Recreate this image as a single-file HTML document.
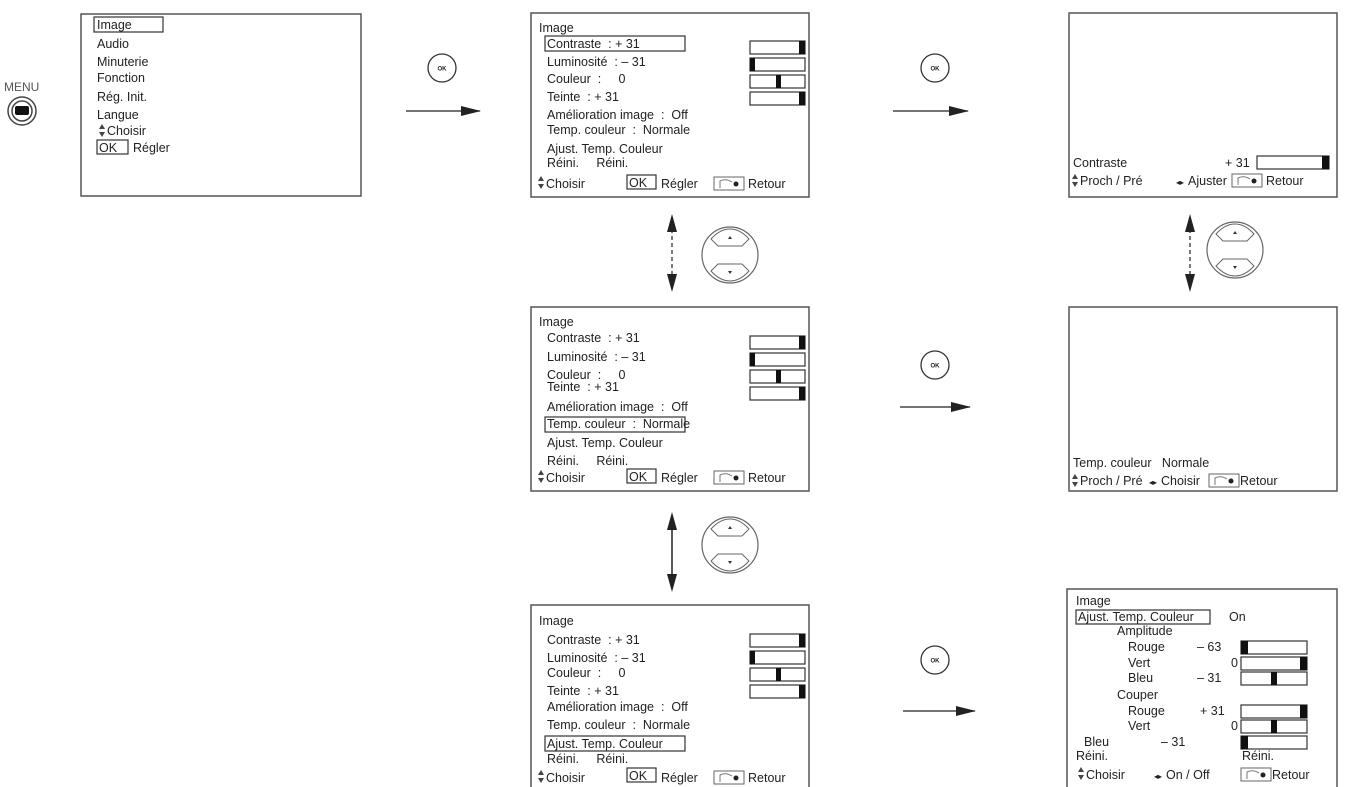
<!DOCTYPE html>
<html><head><meta charset="utf-8"><style>
html,body{margin:0;padding:0;background:#fff;}
svg{display:block;}
text{font-family:"Liberation Sans",sans-serif;font-size:12.5px;fill:#222;}
.b{fill:#fff;stroke:#555;stroke-width:1.5;}
.f{fill:#111;}
.h{fill:none;stroke:#333;stroke-width:1.2;}
.ret{fill:#fff;stroke:#666;stroke-width:1;}
</style></head><body>
<svg width="1345" height="787" viewBox="0 0 1345 787" xmlns="http://www.w3.org/2000/svg">
<defs>
<marker id="ah2" markerWidth="20" markerHeight="10" refX="19" refY="5" orient="auto" markerUnits="userSpaceOnUse"><path d="M0,0 L20,5 L0,10 z" fill="#222"/></marker>
<g id="ok"><circle cx="0" cy="0" r="14" fill="#fff" stroke="#333" stroke-width="1.3"/><text x="0" y="2.5" text-anchor="middle" style="font-size:6px;font-weight:bold">OK</text></g>
<g id="dial"><circle cx="0" cy="0" r="28" fill="#fff" stroke="#666" stroke-width="1.2"/><path d="M-19,-16 Q-10,-26 0,-26 Q10,-26 19,-16 L12,-9 L-12,-9 z" fill="#fff" stroke="#666"/><path d="M-19,16 Q-10,26 0,26 Q10,26 19,16 L12,9 L-12,9 z" fill="#fff" stroke="#666"/><path d="M-2,-16 L2,-16 L0,-19 z" fill="#333"/><path d="M-2,16 L2,16 L0,19 z" fill="#333"/></g>
<g id="retour"><rect x="0" y="-10" width="30" height="13" class="ret"/><path d="M6,1 L6,-6 Q12,-9 18,-5" fill="none" stroke="#777"/><circle cx="22" cy="-3" r="2.5" fill="#222"/></g>
<g id="updn"><path d="M0,-7 L-3,-2 L3,-2 z M0,6 L-3,1 L3,1 z" fill="#444"/></g>
</defs>

<text x="4" y="91" style="font-size:12px;fill:#555">MENU</text>
<circle cx="22" cy="111" r="14" fill="#fff" stroke="#444" stroke-width="1.5"/>
<circle cx="22" cy="111" r="10" fill="#fff" stroke="#444" stroke-width="1.5"/>
<rect x="15" y="106" width="14" height="9" rx="2" fill="#111"/>

<rect x="81" y="14" width="280" height="182" class="b"/>
<rect x="94" y="17" width="69" height="15" class="h"/>
<text x="97" y="29">Image</text>
<text x="97" y="48">Audio</text>
<text x="97" y="66">Minuterie</text>
<text x="97" y="82">Fonction</text>
<text x="97" y="101">Rég. Init.</text>
<text x="97" y="119">Langue</text>
<use href="#updn" x="102" y="131"/><text x="107" y="135">Choisir</text>
<rect x="97" y="140" width="31" height="14" class="h"/>
<text x="99" y="152">OK</text><text x="133" y="152">Régler</text>

<use href="#ok" x="442" y="68"/>
<line x1="406" y1="111" x2="480" y2="111" stroke="#222" stroke-width="1.3" marker-end="url(#ah2)"/>
<use href="#ok" x="935" y="68"/>
<line x1="893" y1="111" x2="968" y2="111" stroke="#222" stroke-width="1.3" marker-end="url(#ah2)"/>

<g transform="translate(531,13)">
<rect x="0" y="0" width="278" height="184" class="b"/>
<text x="8" y="19">Image</text>
<rect x="14" y="23" width="140" height="15" class="h"/>
<text x="16" y="35">Contraste &#160;: + 31</text>
<text x="16" y="53">Luminosité &#160;: – 31</text>
<text x="16" y="70">Couleur &#160;: &#160;&#160;&#160;&#160;0</text>
<text x="16" y="88">Teinte &#160;: + 31</text>
<text x="16" y="106">Amélioration image &#160;: &#160;Off</text>
<text x="16" y="121">Temp. couleur &#160;: &#160;Normale</text>
<text x="16" y="140">Ajust. Temp. Couleur</text>
<text x="16" y="154">Réini. &#160;&#160;&#160;&#160;Réini.</text>
<use href="#updn" x="10" y="170"/><text x="15" y="175">Choisir</text>
<rect x="96" y="162" width="29" height="14" class="h"/><text x="98" y="174">OK</text><text x="130" y="175">Régler</text>
<use href="#retour" x="183" y="174"/><text x="217" y="175">Retour</text>
<rect x="219" y="28" width="55" height="13" class="h"/><rect x="268" y="28" width="6" height="13" class="f"/>
<rect x="219" y="45" width="55" height="13" class="h"/><rect x="219" y="45" width="5" height="13" class="f"/>
<rect x="219" y="62" width="55" height="13" class="h"/><rect x="245" y="62" width="5" height="13" class="f"/>
<rect x="219" y="79" width="55" height="13" class="h"/><rect x="268" y="79" width="6" height="13" class="f"/>
</g>

<g transform="translate(1069,13)">
<rect x="0" y="0" width="268" height="184" class="b"/>
<text x="4" y="154">Contraste</text>
<text x="156" y="154">+ 31</text>
<rect x="188" y="143" width="72" height="13" class="h"/><rect x="253" y="143" width="7" height="13" class="f"/>
<use href="#updn" x="6" y="168"/><text x="11" y="172">Proch / Pré</text>
<text x="107" y="172" style="font-size:8px">◂▸</text><text x="119" y="172">Ajuster</text>
<use href="#retour" x="163" y="171"/><text x="197" y="172">Retour</text>
</g>

<line x1="672" y1="222" x2="672" y2="284" stroke="#222" stroke-width="1.2" stroke-dasharray="4,3"/>
<path d="M672,214 L667,232 L677,232 z M672,292 L667,274 L677,274 z" fill="#222"/>
<use href="#dial" x="730" y="255"/>
<line x1="1190" y1="222" x2="1190" y2="284" stroke="#222" stroke-width="1.2" stroke-dasharray="4,3"/>
<path d="M1190,214 L1185,232 L1195,232 z M1190,292 L1185,274 L1195,274 z" fill="#222"/>
<use href="#dial" x="1235" y="250"/>

<g transform="translate(531,307)">
<rect x="0" y="0" width="278" height="184" class="b"/>
<text x="8" y="19">Image</text>
<text x="16" y="35">Contraste &#160;: + 31</text>
<text x="16" y="54">Luminosité &#160;: – 31</text>
<text x="16" y="72">Couleur &#160;: &#160;&#160;&#160;&#160;0</text>
<text x="16" y="84">Teinte &#160;: + 31</text>
<text x="16" y="104">Amélioration image &#160;: &#160;Off</text>
<rect x="14" y="110" width="140" height="15" class="h"/>
<text x="16" y="121">Temp. couleur &#160;: &#160;Normale</text>
<text x="16" y="140">Ajust. Temp. Couleur</text>
<text x="16" y="158">Réini. &#160;&#160;&#160;&#160;Réini.</text>
<use href="#updn" x="10" y="170"/><text x="15" y="175">Choisir</text>
<rect x="96" y="162" width="29" height="14" class="h"/><text x="98" y="174">OK</text><text x="130" y="175">Régler</text>
<use href="#retour" x="183" y="174"/><text x="217" y="175">Retour</text>
<rect x="219" y="29" width="55" height="13" class="h"/><rect x="268" y="29" width="6" height="13" class="f"/>
<rect x="219" y="46" width="55" height="13" class="h"/><rect x="219" y="46" width="5" height="13" class="f"/>
<rect x="219" y="63" width="55" height="13" class="h"/><rect x="245" y="63" width="5" height="13" class="f"/>
<rect x="219" y="80" width="55" height="13" class="h"/><rect x="268" y="80" width="6" height="13" class="f"/>
</g>

<use href="#ok" x="935" y="365"/>
<line x1="900" y1="407" x2="970" y2="407" stroke="#222" stroke-width="1.3" marker-end="url(#ah2)"/>

<g transform="translate(1069,307)">
<rect x="0" y="0" width="268" height="184" class="b"/>
<text x="4" y="160">Temp. couleur &#160;&#160;Normale</text>
<use href="#updn" x="6" y="174"/><text x="11" y="178">Proch / Pré</text>
<text x="80" y="178" style="font-size:8px">◂▸</text><text x="92" y="178">Choisir</text>
<use href="#retour" x="140" y="177"/><text x="171" y="178">Retour</text>
</g>

<line x1="672" y1="520" x2="672" y2="584" stroke="#222" stroke-width="1.5"/>
<path d="M672,512 L667,530 L677,530 z M672,592 L667,574 L677,574 z" fill="#222"/>
<use href="#dial" x="730" y="545"/>

<g transform="translate(531,605)">
<rect x="0" y="0" width="278" height="184" class="b"/>
<text x="8" y="20">Image</text>
<text x="16" y="39">Contraste &#160;: + 31</text>
<text x="16" y="57">Luminosité &#160;: – 31</text>
<text x="16" y="72">Couleur &#160;: &#160;&#160;&#160;&#160;0</text>
<text x="16" y="90">Teinte &#160;: + 31</text>
<text x="16" y="106">Amélioration image &#160;: &#160;Off</text>
<text x="16" y="124">Temp. couleur &#160;: &#160;Normale</text>
<rect x="14" y="131" width="140" height="15" class="h"/>
<text x="16" y="143">Ajust. Temp. Couleur</text>
<text x="16" y="158">Réini. &#160;&#160;&#160;&#160;Réini.</text>
<use href="#updn" x="10" y="172"/><text x="15" y="177">Choisir</text>
<rect x="96" y="163" width="29" height="14" class="h"/><text x="98" y="175">OK</text><text x="130" y="177">Régler</text>
<use href="#retour" x="183" y="176"/><text x="217" y="177">Retour</text>
<rect x="219" y="29" width="55" height="13" class="h"/><rect x="268" y="29" width="6" height="13" class="f"/>
<rect x="219" y="46" width="55" height="13" class="h"/><rect x="219" y="46" width="5" height="13" class="f"/>
<rect x="219" y="63" width="55" height="13" class="h"/><rect x="245" y="63" width="5" height="13" class="f"/>
<rect x="219" y="80" width="55" height="13" class="h"/><rect x="268" y="80" width="6" height="13" class="f"/>
</g>

<use href="#ok" x="935" y="660"/>
<line x1="903" y1="711" x2="975" y2="711" stroke="#222" stroke-width="1.3" marker-end="url(#ah2)"/>

<g transform="translate(1067,589)">
<rect x="0" y="0" width="270" height="200" class="b"/>
<text x="9" y="16">Image</text>
<rect x="9" y="21" width="134" height="14" class="h"/>
<text x="11" y="32">Ajust. Temp. Couleur</text><text x="162" y="32">On</text>
<text x="50" y="46">Amplitude</text>
<text x="61" y="62">Rouge</text><text x="130" y="62">– 63</text>
<text x="61" y="78">Vert</text><text x="171" y="78" text-anchor="end">0</text>
<text x="61" y="93">Bleu</text><text x="130" y="93">– 31</text>
<text x="50" y="110">Couper</text>
<text x="61" y="126">Rouge</text><text x="133" y="126">+ 31</text>
<text x="61" y="141">Vert</text><text x="171" y="141" text-anchor="end">0</text>
<text x="17" y="157">Bleu</text><text x="94" y="157">– 31</text>
<text x="9" y="171">Réini.</text><text x="175" y="171">Réini.</text>
<use href="#updn" x="14" y="185"/><text x="19" y="190">Choisir</text>
<text x="87" y="190" style="font-size:8px">◂▸</text><text x="99" y="190">On / Off</text>
<use href="#retour" x="174" y="189"/><text x="205" y="190">Retour</text>
<rect x="174" y="52" width="66" height="13" class="h"/><rect x="174" y="52" width="7" height="13" class="f"/>
<rect x="174" y="68" width="66" height="13" class="h"/><rect x="233" y="68" width="7" height="13" class="f"/>
<rect x="174" y="83" width="66" height="13" class="h"/><rect x="204" y="83" width="6" height="13" class="f"/>
<rect x="174" y="116" width="66" height="13" class="h"/><rect x="233" y="116" width="7" height="13" class="f"/>
<rect x="174" y="131" width="66" height="13" class="h"/><rect x="204" y="131" width="6" height="13" class="f"/>
<rect x="174" y="147" width="66" height="13" class="h"/><rect x="174" y="147" width="7" height="13" class="f"/>
</g>
</svg>
</body></html>
